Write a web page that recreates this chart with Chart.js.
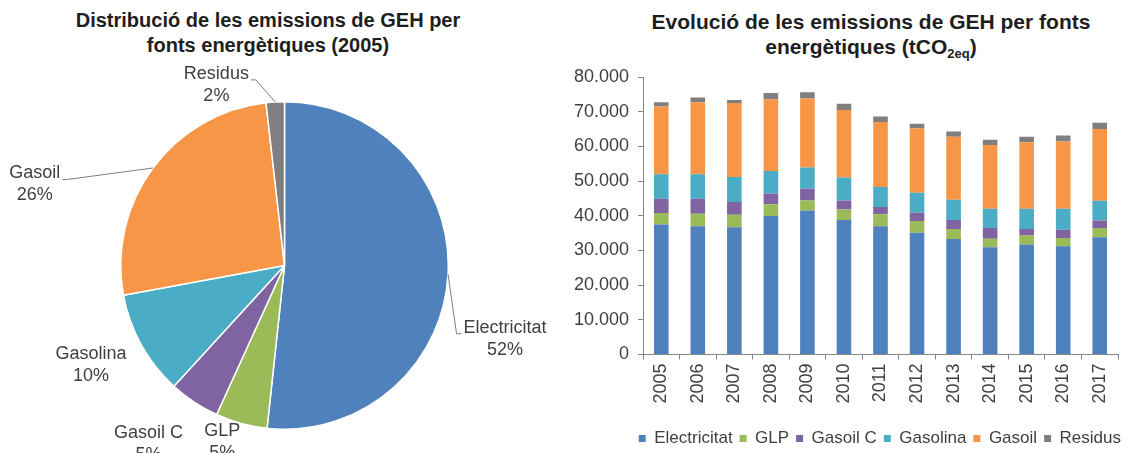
<!DOCTYPE html>
<html>
<head>
<meta charset="utf-8">
<script src="https://cdn.jsdelivr.net/npm/chart.js@4.4.1/dist/chart.umd.min.js"></script>
<style>
  html, body { margin: 0; padding: 0; background: #fff; overflow: hidden; }
  body { width: 1128px; height: 453px; position: relative; font-family: "Liberation Sans", Arial, sans-serif; }
  .title { position: absolute; font-weight: bold; font-size: 20px; color: #1e1e1e; text-align: center; line-height: 25px; }
  .title sub { font-size: 13px; vertical-align: -4px; line-height: 0; }
  #pieTitle { left: 20px; width: 496px; top: 8px; }
  #barTitle { left: 610px; width: 522px; top: 9px; font-size: 21px; }
  #pieWrap { position: absolute; left: 0; top: 0; }
  #barWrap { position: absolute; left: 560px; top: 0; }
</style>
</head>
<body>
<div class="title" id="pieTitle">Distribució de les emissions de GEH per<br>fonts energètiques (2005)</div>
<div class="title" id="barTitle">Evolució de les emissions de GEH per fonts<br>energètiques (tCO<sub>2eq</sub>)</div>
<div id="pieWrap"><canvas id="pieChart" width="560" height="453"></canvas></div>
<div id="barWrap"><canvas id="barChart" width="568" height="457"></canvas></div>
<script>
// valors llegits del gràfic (tCO2eq)
const years = ['2005', '2006', '2007', '2008', '2009', '2010', '2011', '2012', '2013', '2014', '2015', '2016', '2017'];
const electricitat = [37500, 37000, 36700, 39900, 41500, 38800, 37000, 35100, 33300, 30900, 31700, 31200, 33800];
const glp = [3300, 3600, 3600, 3400, 2900, 3000, 3400, 3400, 2900, 2500, 2600, 2400, 2700];
const gasoilC = [4100, 4300, 3700, 3100, 3400, 2600, 2100, 2400, 2600, 3100, 1900, 2400, 2100];
const gasolina = [7100, 7100, 7200, 6500, 6100, 6600, 5800, 5700, 5800, 5500, 5800, 6000, 5700];
const gasoil = [19500, 20700, 21300, 20700, 19900, 19500, 18700, 18600, 18200, 18400, 19200, 19400, 20700];
const residus = [1200, 1400, 900, 1800, 1800, 1800, 1600, 1300, 1500, 1500, 1600, 1700, 1800];

// pastís 2005 (%)
const pieLabels = ['Electricitat', 'GLP', 'Gasoil C', 'Gasolina', 'Gasoil', 'Residus'];
const pieShares = [51.7, 5.1, 5.0, 10.3, 26.1, 1.8];

const colors = ['#4f81bd', '#9bbb59', '#8064a2', '#4bacc6', '#f79646', '#7f7f7f'];
const fontFamily = '"Liberation Sans", Arial, sans-serif';
const textColor = '#404040';

// posició de les etiquetes del pastís (en radis des del centre) i costat de la línia guia
const labelSpots = [
    { dx: 1.347, dy: 0.380, leader: -1 },
    { dx: -0.380, dy: 1.012, leader: 0 },
    { dx: -0.830, dy: 1.024, leader: 0 },
    { dx: -1.182, dy: 0.538, leader: 0 },
    { dx: -1.525, dy: -0.562, leader: 1 },
    { dx: -0.416, dy: -1.170, leader: 1 }
];

const pieLabelPlugin = {
    id: 'pieLabels',
    afterDatasetsDraw(chart) {
        const ctx = chart.ctx;
        const meta = chart.getDatasetMeta(0);
        ctx.save();
        ctx.font = '18px ' + fontFamily;
        ctx.textAlign = 'center';
        ctx.textBaseline = 'middle';
        meta.data.forEach((arc, i) => {
            const p = arc.getProps(['x', 'y', 'outerRadius', 'startAngle', 'endAngle'], true);
            const spot = labelSpots[i];
            const lx = p.x + spot.dx * p.outerRadius;
            const ly = p.y + spot.dy * p.outerRadius;
            ctx.fillStyle = textColor;
            ctx.fillText(pieLabels[i], lx, ly);
            ctx.fillText(Math.round(pieShares[i]) + '%', lx, ly + 22);
            if (spot.leader) {
                const mid = (p.startAngle + p.endAngle) / 2;
                const ax = p.x + Math.cos(mid) * p.outerRadius;
                const ay = p.y + Math.sin(mid) * p.outerRadius;
                const w = ctx.measureText(pieLabels[i]).width;
                const ex = lx + spot.leader * (w / 2 + 2);
                const ey = ly + 6;
                ctx.strokeStyle = '#7f7f7f';
                ctx.lineWidth = 1;
                ctx.beginPath();
                ctx.moveTo(ex, ey);
                ctx.lineTo(ex + spot.leader * 5, ey);
                ctx.lineTo(ax, ay);
                ctx.stroke();
            }
        });
        ctx.restore();
    }
};

new Chart(document.getElementById('pieChart').getContext('2d'), {
    type: 'pie',
    data: {
        labels: pieLabels,
        datasets: [{
            data: pieShares,
            backgroundColor: colors,
            borderColor: '#ffffff',
            borderWidth: 1.5,
            hoverOffset: 0
        }]
    },
    options: {
        responsive: false,
        animation: false,
        layout: { padding: { left: 120, top: 101, right: 111, bottom: 23 } },
        plugins: {
            legend: { display: false },
            tooltip: { enabled: false }
        }
    },
    plugins: [pieLabelPlugin]
});

const seriesNames = ['Electricitat', 'GLP', 'Gasoil C', 'Gasolina', 'Gasoil', 'Residus'];
const seriesData = [electricitat, glp, gasoilC, gasolina, gasoil, residus];

function formatThousands(v) {
    return String(v).replace(/\B(?=(\d{3})+(?!\d))/g, '.');
}

new Chart(document.getElementById('barChart').getContext('2d'), {
    type: 'bar',
    data: {
        labels: years,
        datasets: seriesNames.map((name, i) => ({
            label: name,
            data: seriesData[i],
            backgroundColor: colors[i],
            borderWidth: 0,
            barPercentage: 0.4,
            categoryPercentage: 1
        }))
    },
    options: {
        responsive: false,
        animation: false,
        layout: { padding: { left: 0, top: 77, right: 0, bottom: 0 } },
        scales: {
            x: {
                stacked: true,
                afterFit: s => { s.height = 68.5; },
                border: { display: true, color: '#868686', width: 1 },
                grid: { display: true, drawOnChartArea: false, drawTicks: true, tickLength: 5, color: '#868686', offset: true },
                ticks: { color: textColor, font: { family: fontFamily, size: 18 }, minRotation: 90, maxRotation: 90, padding: 4 }
            },
            y: {
                stacked: true,
                min: 0,
                max: 80000,
                afterFit: s => { s.width = 83; },
                border: { display: true, color: '#868686', width: 1 },
                grid: { display: true, drawOnChartArea: false, drawTicks: true, tickLength: 5, color: '#868686' },
                ticks: { stepSize: 10000, color: textColor, font: { family: fontFamily, size: 18 }, padding: 9, callback: v => formatThousands(v) }
            },
            // marge dret buit perquè la llegenda arribi fins a la vora
            yRight: {
                type: 'linear',
                position: 'right',
                afterFit: s => { s.width = 10; },
                border: { display: false },
                grid: { display: false },
                ticks: { display: false }
            }
        },
        plugins: {
            legend: {
                position: 'bottom',
                align: 'end',
                labels: { boxWidth: 7, boxHeight: 7, padding: 7, color: textColor, font: { family: fontFamily, size: 17 } }
            },
            tooltip: { enabled: false }
        }
    }
});
</script>
</body>
</html>
